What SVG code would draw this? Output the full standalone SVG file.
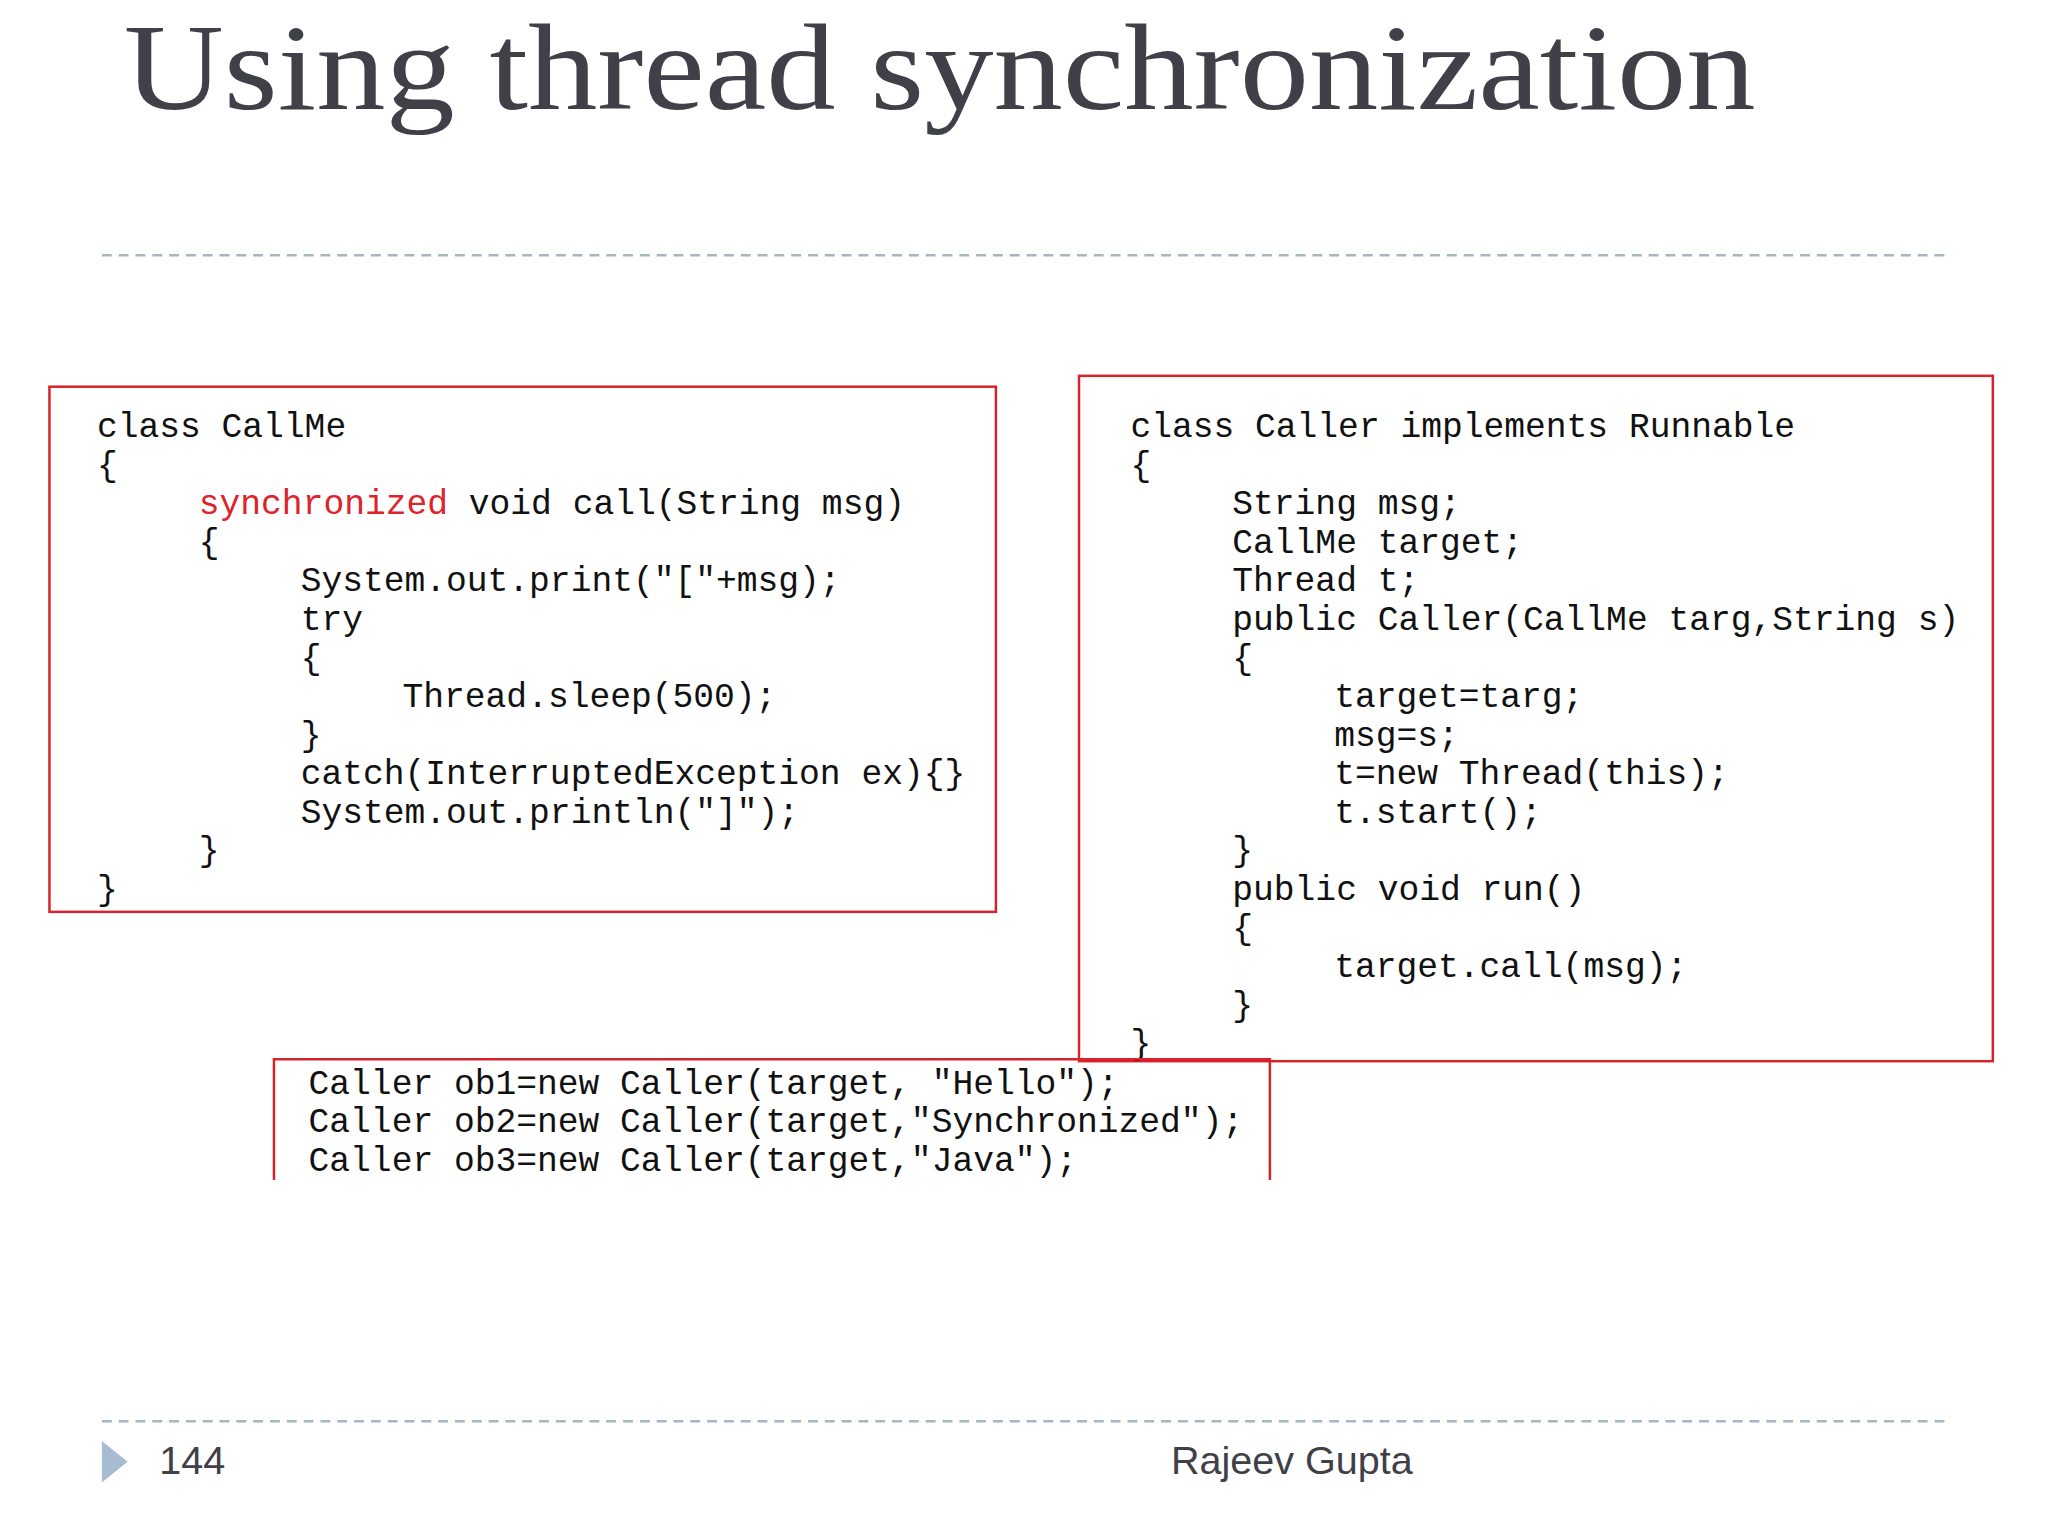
<svg xmlns="http://www.w3.org/2000/svg" width="2048" height="1536" viewBox="0 0 2048 1536">
<style>
.c{font-family:"Liberation Mono","Courier New",monospace;font-size:35px;fill:#111;white-space:pre}
.box{fill:none;stroke:#d8222a;stroke-width:2.5}
.dash{stroke:#a9b4c4;stroke-width:2.5;stroke-dasharray:10 7}
</style>
<rect width="2048" height="1536" fill="#fff"/>
<g transform="scale(0.989)">
<text x="125" y="110" font-family="Liberation Serif,serif" font-size="124" fill="#404048" textLength="1650" lengthAdjust="spacingAndGlyphs">Using thread synchronization</text>
<line class="dash" x1="103" y1="258" x2="1968" y2="258"/>
<line class="dash" x1="103" y1="1437" x2="1968" y2="1437"/>
<g id="callme">
<rect class="box" x="50" y="391" width="957" height="531"/>
<text class="c" x="98" y="442">class CallMe</text>
<text class="c" x="98" y="481">{</text>
<text class="c" x="201" y="520"><tspan fill="#e0222a">synchronized</tspan> void call(String msg)</text>
<text class="c" x="201" y="559">{</text>
<text class="c" x="304" y="598">System.out.print("["+msg);</text>
<text class="c" x="304" y="637">try</text>
<text class="c" x="304" y="676">{</text>
<text class="c" x="407" y="715">Thread.sleep(500);</text>
<text class="c" x="304" y="754">}</text>
<text class="c" x="304" y="793">catch(InterruptedException ex){}</text>
<text class="c" x="304" y="832">System.out.println("]");</text>
<text class="c" x="201" y="871">}</text>
<text class="c" x="98" y="910">}</text>
</g>
<g id="caller">
<rect class="box" x="1091" y="380" width="924" height="693"/>
<text class="c" x="1143" y="442">class Caller implements Runnable</text>
<text class="c" x="1143" y="481">{</text>
<text class="c" x="1246" y="520">String msg;</text>
<text class="c" x="1246" y="559">CallMe target;</text>
<text class="c" x="1246" y="598">Thread t;</text>
<text class="c" x="1246" y="637">public Caller(CallMe targ,String s)</text>
<text class="c" x="1246" y="676">{</text>
<text class="c" x="1349" y="715">target=targ;</text>
<text class="c" x="1349" y="754">msg=s;</text>
<text class="c" x="1349" y="793">t=new Thread(this);</text>
<text class="c" x="1349" y="832">t.start();</text>
<text class="c" x="1246" y="871">}</text>
<text class="c" x="1246" y="910">public void run()</text>
<text class="c" x="1246" y="949">{</text>
<text class="c" x="1349" y="988">target.call(msg);</text>
<text class="c" x="1246" y="1027">}</text>
<text class="c" x="1143" y="1066">}</text>
</g>
<g id="main">
<path class="box" d="M277 1193 V1071 H1284 V1193"/>
<text class="c" x="312" y="1106">Caller ob1=new Caller(target, "Hello");</text>
<text class="c" x="312" y="1145">Caller ob2=new Caller(target,"Synchronized");</text>
<text class="c" x="312" y="1184">Caller ob3=new Caller(target,"Java");</text>
</g>
<polygon points="103,1457 129,1478 103,1499" fill="#a7bbd3"/>
<text x="161" y="1490" font-family="Liberation Sans,sans-serif" font-size="40" fill="#404048">144</text>
<text x="1184" y="1490" font-family="Liberation Sans,sans-serif" font-size="40" fill="#404048">Rajeev Gupta</text>
</g>
</svg>
